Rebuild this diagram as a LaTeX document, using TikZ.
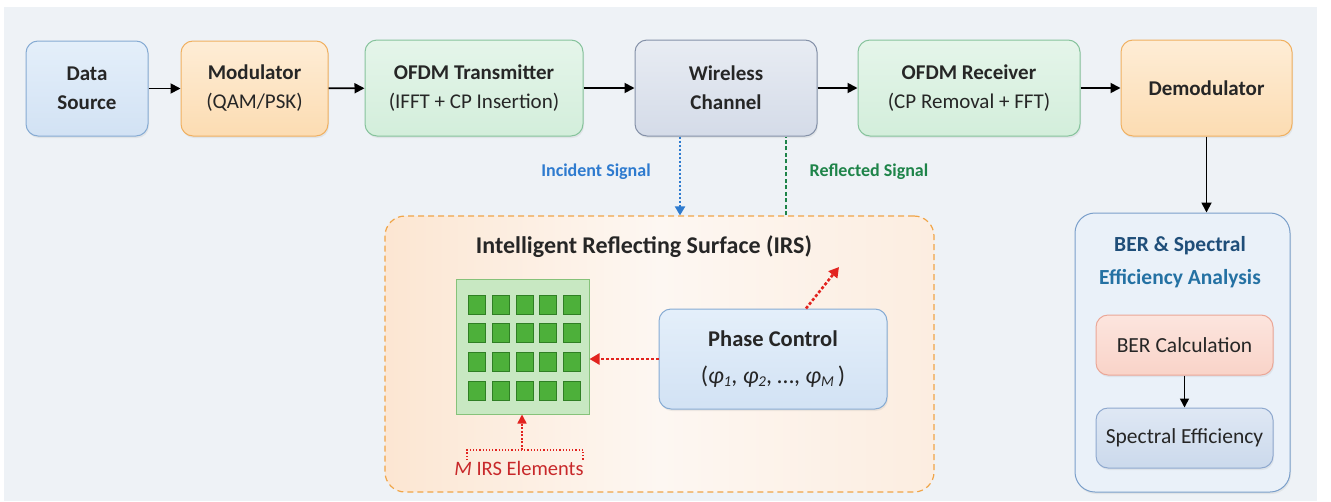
\documentclass[tikz,border=0pt]{standalone}
\usepackage{fontspec}
\setmainfont{Carlito}
\usetikzlibrary{arrows.meta,shadows}
\definecolor{bgpanel}{HTML}{EEF2F6}
\definecolor{txt}{HTML}{262626}
\definecolor{blueA}{HTML}{E4EFFA}\definecolor{blueB}{HTML}{D2E2F4}\definecolor{blueL}{HTML}{86ABD3}
\definecolor{orA}{HTML}{FEEDD6}\definecolor{orB}{HTML}{FCDCB2}\definecolor{orL}{HTML}{F0B060}
\definecolor{grA}{HTML}{E5F5EA}\definecolor{grB}{HTML}{D3EEDB}\definecolor{grL}{HTML}{86C39C}
\definecolor{chA}{HTML}{E8ECF3}\definecolor{chB}{HTML}{D4DBE8}\definecolor{chL}{HTML}{8491A8}
\definecolor{rdA}{HTML}{FCE5DE}\definecolor{rdB}{HTML}{F9D3C8}\definecolor{rdL}{HTML}{EBA797}
\definecolor{spA}{HTML}{DFE8F4}\definecolor{spB}{HTML}{CBD9EC}\definecolor{spL}{HTML}{8FA9CF}
\definecolor{berF}{HTML}{EAF1F9}\definecolor{berL}{HTML}{7A9FCA}
\definecolor{irsA}{HTML}{FCE6D2}\definecolor{irsB}{HTML}{FDF7F2}\definecolor{irsC}{HTML}{FCEDE0}\definecolor{irsL}{HTML}{F0A548}
\definecolor{gridF}{HTML}{C8E8C2}\definecolor{gridL}{HTML}{86C27A}
\definecolor{sqF}{HTML}{4DB03A}\definecolor{sqL}{HTML}{2F7F24}
\definecolor{redA}{HTML}{E2231F}\definecolor{redT}{HTML}{C8282A}
\definecolor{incB}{HTML}{2E7BCF}\definecolor{refG}{HTML}{1E8449}
\definecolor{navy}{HTML}{1F4E79}\definecolor{teal}{HTML}{2471A3}
\newcommand\phs[1]{\textit{φ}\raisebox{-0.3ex}{\fontsize{15}{15}\selectfont\textit{#1}}}
\begin{document}
\begin{tikzpicture}[x=1pt,y=-1pt,
  box/.style={rounded corners=12pt, line width=1pt, align=center, inner sep=0pt, text=txt,
    drop shadow={opacity=0.12, shadow xshift=1pt, shadow yshift=-2pt},
    font=\fontsize{21}{29}\selectfont},
  bluebox/.style={box, top color=blueA, bottom color=blueB, draw=blueL},
  orbox/.style={box, top color=orA, bottom color=orB, draw=orL},
  grbox/.style={box, top color=grA, bottom color=grB, draw=grL},
  chbox/.style={box, top color=chA, bottom color=chB, draw=chL},
  flow/.style={line width=1.8pt, draw=black, -{Triangle[length=10pt,width=10pt]}},
  redflow/.style={line width=2.6pt, draw=redA, dash pattern=on 3pt off 2pt, -{Triangle[length=10pt,width=11pt]}},
  lbl/.style={inner sep=0pt, font=\bfseries\fontsize{18}{22}\selectfont}
]
\useasboundingbox (0,0) rectangle (1331,501);
\fill[white] (0,0) rectangle (1331,501);
\fill[bgpanel] (4,7) rectangle (1317,501);

% top row
\node[bluebox, minimum width=122pt, minimum height=95pt] (ds) at (87,88.5) {\bfseries Data\\\bfseries Source};
\node[orbox, minimum width=147pt, minimum height=95pt] (mod) at (254.5,88.5) {\bfseries Modulator\\(QAM/PSK)};
\node[grbox, minimum width=218pt, minimum height=96pt] (tx) at (474,88) {\bfseries OFDM Transmitter\\(IFFT + CP Insertion)};
\node[chbox, minimum width=182pt, minimum height=96pt] (ch) at (726,88) {\bfseries Wireless\\\bfseries Channel};
\node[grbox, minimum width=222pt, minimum height=96pt] (rx) at (969,88) {\bfseries OFDM Receiver\\(CP Removal + FFT)};
\node[orbox, minimum width=171pt, minimum height=96pt] (dem) at (1206.5,88) {\bfseries Demodulator};

\draw[flow] (ds) -- (mod);
\draw[flow] (mod) -- (tx);
\draw[flow] (tx) -- (ch);
\draw[flow] (ch) -- (rx);
\draw[flow] (rx) -- (dem);

% BER panel
\node[box, rounded corners=20pt, fill=berF, draw=berL, minimum width=215pt, minimum height=279pt] (ber) at (1182.5,352.5) {};
\node[inner sep=0pt, align=center, font=\bfseries\fontsize{21.5}{33}\selectfont] (bertitle) at (1180,262)
  {\textcolor{navy}{BER \& Spectral}\\\textcolor{teal}{Efficiency Analysis}};
\node[box, font=\fontsize{21.5}{26}\selectfont, top color=rdA, bottom color=rdB, draw=rdL, minimum width=177pt, minimum height=60pt] (calc) at (1184.5,345) {BER Calculation};
\node[box, font=\fontsize{21.5}{26}\selectfont, top color=spA, bottom color=spB, draw=spL, minimum width=177pt, minimum height=60pt] (spec) at (1184.5,438) {Spectral Efficiency};
\draw[flow, line width=1.6pt, -{Triangle[length=9pt,width=9pt]}] (calc) -- (spec);
\draw[flow] (dem.south) -- (dem.south |- ber.north);

% IRS
\node[rounded corners=20pt, line width=1.2pt, draw=irsL, dashed, dash pattern=on 6pt off 4pt,
  left color=irsA, right color=irsC, middle color=irsB,
  minimum width=549pt, minimum height=276pt, inner sep=0pt] (irs) at (659.5,354) {};
\node[inner sep=0pt, text=txt, font=\bfseries\fontsize{24}{28}\selectfont] (irstitle) at (644,247) {Intelligent Reflecting Surface (IRS)};

\node[draw=gridL, fill=gridF, line width=1pt, minimum width=133pt, minimum height=135pt, inner sep=0pt] (grid) at (522.5,346.5) {};
\foreach \i/\cx in {1/476.5,2/500.5,3/524.5,4/547.5,5/571.5}{
  \foreach \j/\cy in {1/304.5,2/332.5,3/361.5,4/390.5}{
    \node[draw=sqL, fill=sqF, line width=0.8pt, minimum width=17pt, minimum height=19pt, inner sep=0pt] (sq-\i-\j) at (\cx,\cy) {};
  }
}

\node[bluebox, minimum width=228pt, minimum height=100pt] (pc) at (773,359)
  {\bfseries\fontsize{22.5}{26}\selectfont Phase Control\\[8pt]\fontsize{24}{26}\selectfont(\phs{1}, \phs{2}, …, \phs{M}\,)};

\draw[redflow] (pc.west) -- (grid.east |- pc.west);
\coordinate (diagend) at (839,267);
\draw[redflow] (pc.north -| 806,0) -- (diagend);

\node[inner sep=0pt, text=redT, font=\fontsize{20.5}{24}\selectfont] (melem) at (519,468) {\textit{M} IRS Elements};
\coordinate (brL) at (467,460);
\coordinate (brR) at (583,460);
\coordinate (brC) at (522,450);
\draw[redA, line width=1.2pt, dotted] (brL) -- (467,450) -- (583,450) -- (brR);
\draw[redA, line width=1.6pt, dash pattern=on 2pt off 1.5pt, -{Triangle[length=9pt,width=9pt]}] (brC) -- (grid.south -| brC);

% signals
\draw[incB, line width=2pt, dash pattern=on 2pt off 2pt, -{Triangle[length=9pt,width=10pt]}] (ch.south -| 680,0) -- (irs.north -| 680,0);
\draw[refG, line width=2.4pt, dash pattern=on 4pt off 2.5pt] (irs.north -| 786,0) -- (ch.south -| 786,0);
\node[lbl, text=incB] (inclbl) at (596,172) {Incident Signal};
\node[lbl, text=refG] (reflbl) at (869,172) {Reflected Signal};
\end{tikzpicture}
\end{document}
